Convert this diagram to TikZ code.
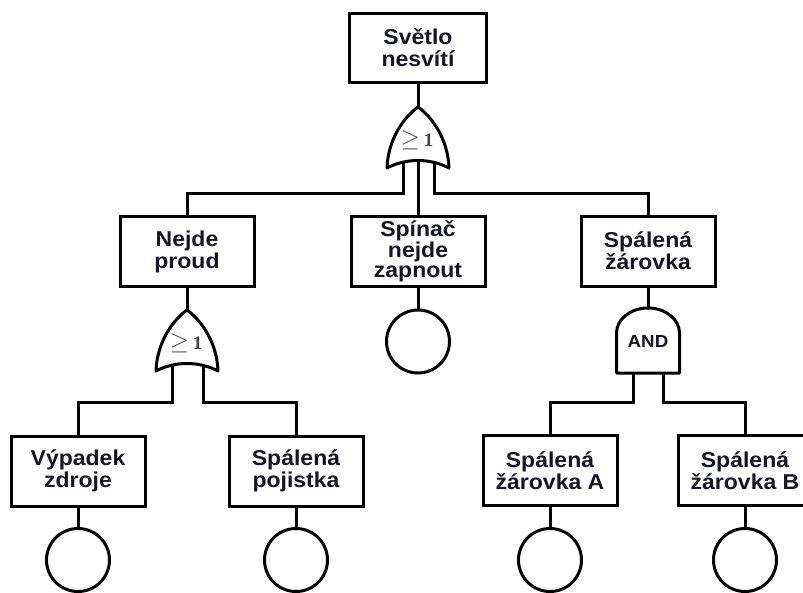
\documentclass[tikz,border=0pt]{standalone}
\usepackage{fontspec}
\setmainfont{Liberation Sans}[FakeStretch=1.07]
\newfontfamily\numfont{Liberation Serif}
\definecolor{ink}{RGB}{20,20,40}
\definecolor{gatetxt}{RGB}{70,70,70}
\begin{document}
\begin{tikzpicture}[x=1pt,y=-1pt,
  connector/.style={draw=black,line width=3pt},
  event/.style={draw,line width=3pt,fill=white,minimum width=134pt,minimum height=70pt,
    inner sep=0pt,align=center,text=ink,
    font=\fontsize{21.5}{22}\selectfont\bfseries},
  basic/.style={draw,line width=3pt,fill=white,circle,minimum size=63pt,inner sep=0pt},
  orgate/.pic={
    \path[draw,line width=3pt,fill=white,line join=round]
      (0,0) .. controls (-14,10) and (-30,32) .. (-31,61)
      .. controls (-12,51) and (12,51) .. (31,61)
      .. controls (30,32) and (14,10) .. (0,0) -- cycle;
    \coordinate (-top) at (0,0);
    \coordinate (-l) at (-15,55.5);
    \coordinate (-m) at (0,53.5);
    \coordinate (-r) at (16,55.5);
    \node[text=gatetxt,inner sep=0pt]
      (-sym) at (-1,33) {\fontsize{24}{24}\selectfont$\geq$\,\numfont\bfseries\fontsize{19}{19}\selectfont 1};
  },
  andgate/.pic={
    \path[draw,line width=3pt,fill=white,line join=round]
      (-31.5,65) -- (-31.5,25)
      .. controls (-31.5,11.2) and (-17.4,0) .. (0,0)
      .. controls (17.4,0) and (31.5,11.2) .. (31.5,25)
      -- (31.5,65) -- cycle;
    \coordinate (-top) at (0,0);
    \coordinate (-l) at (-15,65);
    \coordinate (-r) at (15,65);
    \node[text=ink,font=\fontsize{17.5}{17.5}\selectfont\bfseries,inner sep=0pt]
      (-sym) at (0,33) {AND};
  }]
\useasboundingbox (0,0) rectangle (803,592);

% bus levels
\coordinate (bus1) at (0,193);
\coordinate (bus2) at (0,402);

% events
\node[event,minimum width=137pt,minimum height=69pt] (T) at (418,47.5) {Světlo\\nesvítí};
\node[event] (N) at (187,251.5) {Nejde\\proud};
\node[event,font=\fontsize{21.5}{20}\selectfont\bfseries] (S) at (418,251.5) {Spínač\\nejde\\zapnout};
\node[event] (Z) at (648,251) {Spálená\\žárovka};
\node[event] (V) at (78,471) {Výpadek\\zdroje};
\node[event] (P) at (296,471) {Spálená\\pojistka};
\node[event] (A) at (550,470.5) {Spálená\\žárovka A};
\node[event] (B) at (745,470.5) {Spálená\\žárovka B};

% basic events
\node[basic] (cS) at (418,341.5) {};
\node[basic] (cV) at (78,560) {};
\node[basic] (cP) at (296,560) {};
\node[basic] (cA) at (550,560) {};
\node[basic] (cB) at (745,560) {};

% gates
\pic (g1) at (418,107) {orgate};
\pic (g2) at (187,310) {orgate};
\pic (g3) at (648,308) {andgate};

% connectors
\path[connector] (T.south) -- (g1-top);
\path[connector] (g1-m) -- (S.north);
\path[connector] (g1-l) -- (g1-l |- bus1) -| (N.north);
\path[connector] (g1-r) -- (g1-r |- bus1) -| (Z.north);
\path[connector] (S.south) -- (cS.north);
\path[connector] (N.south) -- (g2-top);
\path[connector] (g2-l) -- (g2-l |- bus2) -| (V.north);
\path[connector] (g2-r) -- (g2-r |- bus2) -| (P.north);
\path[connector] (Z.south) -- (g3-top);
\path[connector] (g3-l) -- (g3-l |- bus2) -| (A.north);
\path[connector] (g3-r) -- (g3-r |- bus2) -| (B.north);
\path[connector] (V.south) -- (cV.north);
\path[connector] (P.south) -- (cP.north);
\path[connector] (A.south) -- (cA.north);
\path[connector] (B.south) -- (cB.north);
\end{tikzpicture}
\end{document}
